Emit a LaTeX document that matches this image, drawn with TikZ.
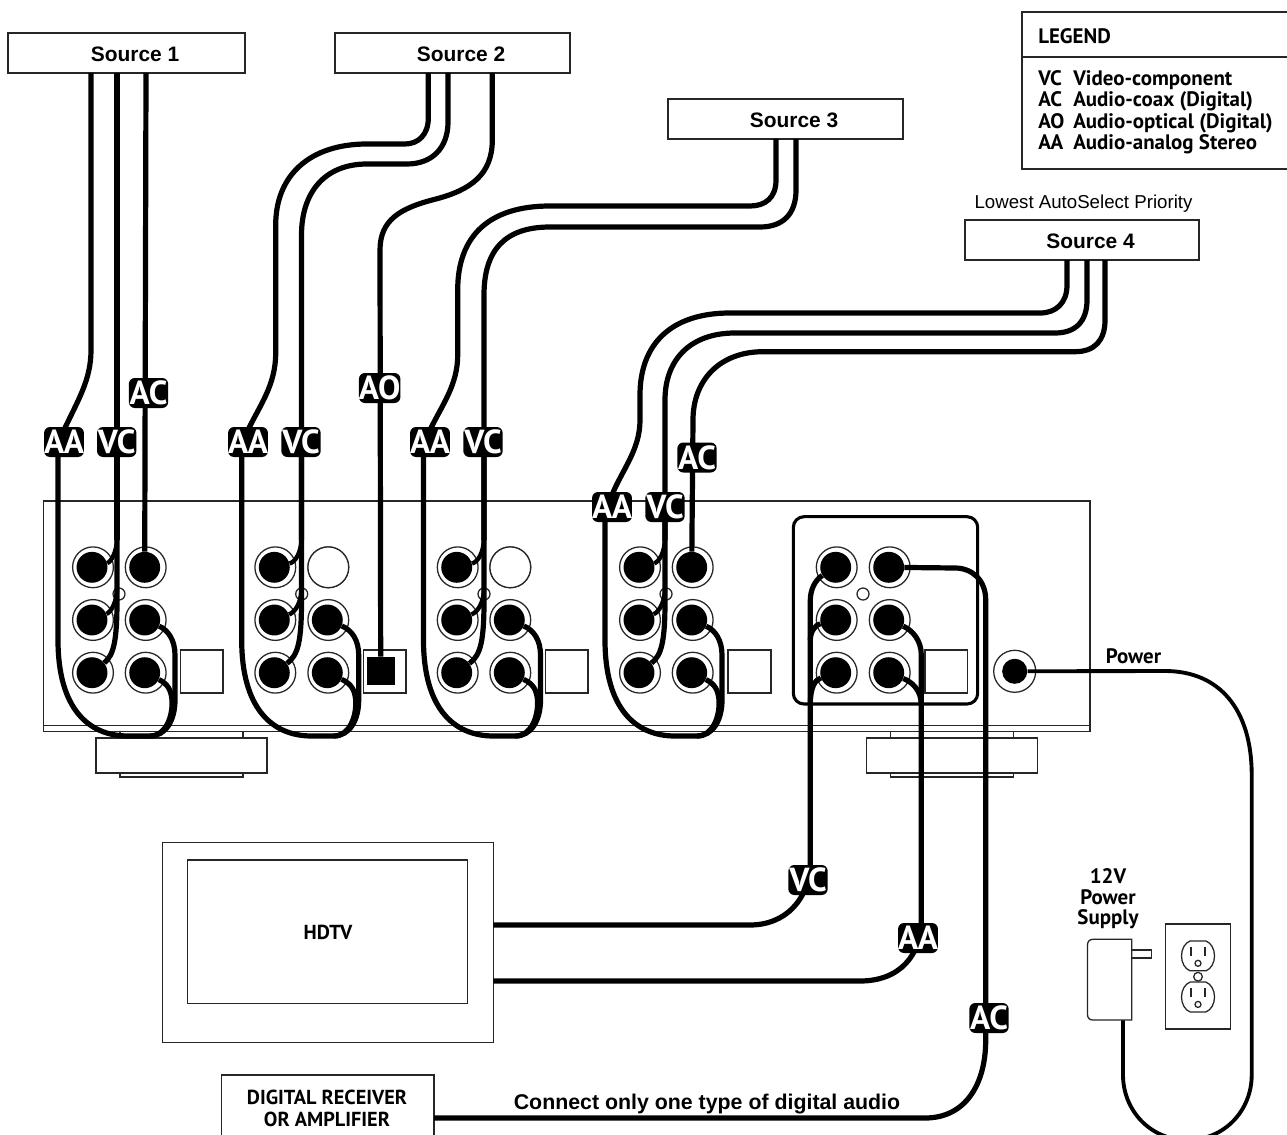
\documentclass[tikz,border=0pt]{standalone}
\usepackage{fontspec}
\setmainfont{Liberation Sans}
\newfontfamily\myr{PT Sans}
\usetikzlibrary{calc}
\tikzset{
  x=0.75pt,y=-0.75pt,
  thin line/.style={draw=black!85,line width=0.95pt},
  box/.style={thin line,fill=white,rectangle,inner sep=0pt,outer sep=0pt},
  jackring/.style={thin line,fill=white,circle,minimum size=30.6pt,inner sep=0pt},
  jackcore/.style={fill=black,circle,minimum size=23.2pt,inner sep=0pt},
  led/.style={thin line,fill=white,circle,minimum size=9pt,inner sep=0pt},
  cable/.style={line width=3.9pt,draw=black,line join=round},
  tag/.style={fill=black,text=white,rounded corners=4.5pt,minimum width=29.5pt,minimum height=22.5pt,inner sep=0pt,font=\myr\bfseries\fontsize{25}{25}\selectfont},
  srclabel/.style={font=\bfseries\fontsize{15.7}{15.7}\selectfont,inner sep=0pt,xshift=6.4pt,yshift=-1.2pt},
  myrlabel/.style={font=\myr\bfseries\fontsize{15.7}{15.7}\selectfont,inner sep=0pt},
  myrsmall/.style={font=\myr\bfseries\fontsize{15.7}{15.7}\selectfont,inner sep=0pt},
}
% a rectangle by its pixel corners
\newcommand{\pxbox}[5]{\node[box,minimum width={(#4-#2)*0.75pt},minimum height={(#5-#3)*0.75pt},anchor=north west] (#1) at (#2,#3) {};}
% one group of six jacks: name, left x, right x
\newcommand{\jackgroup}[3]{%
  \foreach \r/\yy in {a/567.3,b/620,c/672.7}{%
    \node[jackring] (#1l\r) at (#2,\yy) {};
    \node[jackring] (#1r\r) at (#3,\yy) {};
    \node[jackcore] (#1lc\r) at (#2-1,\yy) {};
    \node[jackcore] (#1rc\r) at (#3-1,\yy) {};
  }}
% audio pair: name, left cable x, y where the cable comes out of the tag
\newcommand{\audioloop}[3]{%
  \draw[cable] (#2,#3) -- (#2,640) .. controls (#2,708) and ({#2+30},736) .. ({#2+70},736) -- ({#2+92},736)
     .. controls ({#2+108},736) and ({#2+115},716) .. ({#2+114},700) .. controls ({#2+113},690) and ({#2+110},684) .. (#1rcc);
  \draw[cable] ({#2+92},736) .. controls ({#2+108},736) and ({#2+117},720) .. ({#2+117},700) -- ({#2+117},655) .. controls ({#2+117},640) and ({#2+110},630) .. (#1rcb);
}
% video fan: name, trunk x, top y of the fan part
\newcommand{\videofan}[3]{%
  \draw[cable] (#2,#3) -- (#2,600) .. controls (#2,640) and ({#2-3},655) .. (#1lcc);
  \draw[cable,line width=3.3pt] (#2,538) .. controls (#2,552) and ({#2-6},562) .. (#1lca);
  \draw[cable,line width=3.3pt] (#2,588) .. controls (#2,602) and ({#2-6},612) .. (#1lcb);
}
\begin{document}
\begin{tikzpicture}
\useasboundingbox (0,0) rectangle (1287,1134);
\fill[white] (0,0) rectangle (1287,1134);
\begin{scope}
\clip (0,0) rectangle (1287,1134);
% -------- receiver
\pxbox{footAtop}{120}{731}{243}{738}
\pxbox{footAlow}{120}{773}{243}{777}
\pxbox{footA}{96}{738}{267}{773}
\pxbox{footBtop}{890.7}{731}{1013.7}{738}
\pxbox{footBlow}{890.7}{773}{1013.7}{777}
\pxbox{footB}{866.7}{738}{1037.3}{773}
\pxbox{chassisfoot}{43.7}{725.7}{1090}{731.7}
\pxbox{chassis}{43.7}{501}{1090}{725.7}
\node[draw=black,line width=2.3pt,rounded corners=8pt,fill=white,minimum width={184.4*0.75pt},minimum height={187.3*0.75pt},anchor=north west,inner sep=0pt,outer sep=0pt] (outbox) at (793.3,516.7) {};
\pxbox{optA}{180.3}{650}{223}{693}
\pxbox{optB}{363.3}{650}{406}{693}
\pxbox{optC}{545.7}{650}{588}{693}
\pxbox{optD}{728}{650}{771}{693}
\pxbox{optE}{925}{650}{967.5}{693}
\node[led] (ledA) at (119,594) {};
\node[led] (ledB) at (301.7,594) {};
\node[led] (ledC) at (484,594) {};
\node[led] (ledD) at (666,594) {};
\node[led] (ledE) at (863,594) {};
\jackgroup{A}{93}{145.7}
\jackgroup{B}{275.3}{328.3}
\jackgroup{C}{457.7}{510.3}
\jackgroup{D}{640}{692.7}
\jackgroup{E}{836.7}{889.7}
% empty jacks
\node[jackring] (emptyB) at (328.3,567.3) {};
\node[jackring] (emptyC) at (510.3,567.3) {};
\node[fill=black,minimum size=21pt,inner sep=0pt,outer sep=0pt] (optplug) at (380.7,670.6) {};
\node[jackring,minimum size=31.5pt] (pwr) at (1014.7,671.3) {};
\node[jackcore,minimum size=18.8pt] (pwrcore) at (1014.7,671.3) {};
% -------- sources
\pxbox{srcA}{8}{33}{245}{73}
\pxbox{srcB}{335}{33}{570}{73}
\pxbox{srcC}{668}{99}{903}{139}
\node[font=\fontsize{14}{14}\selectfont,inner sep=0pt] (prio) at (1083.5,203.5) {Lowest AutoSelect Priority};
\pxbox{srcD}{965}{220}{1199}{260}
\node[srclabel] (srcAt) at (srcA.center) {Source 1};
\node[srclabel] (srcBt) at (srcB.center) {Source 2};
\node[srclabel] (srcCt) at (srcC.center) {Source 3};
\node[srclabel] (srcDt) at (srcD.center) {Source 4};
\coordinate (a1) at (91,73);
\coordinate (a2) at (117,73);
\coordinate (a3) at (146,73);
\coordinate (b1) at (428.3,73);
\coordinate (b2) at (448,73);
\coordinate (b3) at (492.3,73);
\coordinate (c1) at (776,139);
\coordinate (c2) at (796,139);
\coordinate (d1) at (1067,260);
\coordinate (d2) at (1087,260);
\coordinate (d3) at (1105,260);
% -------- legend
\pxbox{legend}{1022}{12}{1290}{169}
\draw[thin line] (legend.west |- 0,57) -- (legend.east |- 0,57);
\node[myrlabel,anchor=base west] (lgT) at (1038,43.3) {LEGEND};
\foreach \k/\yy/\aa/\bb in {v/85.7/VC/Video-component,c/107/AC/Audio-coax (Digital),o/128.5/AO/Audio-optical (Digital),n/150/AA/Audio-analog Stereo}{
  \node[myrlabel,anchor=base west] (lg\k a) at (1038,\yy) {\aa};
  \node[myrlabel,anchor=base west] (lg\k b) at (1073,\yy) {\bb};
}
% -------- source 1 cables
\draw[cable] (a1) -- (91,350) .. controls (91,380) and (78,400) .. (64,430);
\draw[cable] (a2) -- (117,540);
\draw[cable] (a3) -- (Arca);
\audioloop{A}{58}{455}
\videofan{A}{117}{450}
% -------- source 2 cables
\draw[cable] (b1) -- (428.3,118) .. controls (428.3,135) and (418,144) .. (405,144) -- (367,144)
  .. controls (310,144) and (275.7,175) .. (275.7,225) -- (275.7,353) .. controls (275.7,385) and (260,405) .. (248,430);
\draw[cable] (b2) -- (448,122) .. controls (448,148) and (432,164) .. (407,164) -- (367,164)
  .. controls (325,164) and (301.5,192) .. (301.5,235) -- (301.5,540);
\draw[cable] (b3) -- (492.3,140) .. controls (492.3,175) and (470,190) .. (436,199) .. controls (400,208) and (380,220) .. (380,250) -- (optplug);
\audioloop{B}{241.7}{455}
\videofan{B}{301.5}{450}
% -------- source 3 cables
\draw[cable] (c1) -- (776,180) .. controls (776,198) and (765,206) .. (750,206) -- (550,206)
  .. controls (490,206) and (457.7,235) .. (457.7,290) -- (457.7,355) .. controls (457.7,385) and (442,405) .. (430,430);
\draw[cable] (c2) -- (796,190) .. controls (796,215) and (782,227) .. (760,227) -- (550,227)
  .. controls (505,227) and (484,250) .. (484,295) -- (484,540);
\audioloop{C}{423.5}{455}
\videofan{C}{484}{450}
% -------- source 4 cables
\draw[cable] (d1) -- (1067,285) .. controls (1067,303) and (1056,313) .. (1040,313) -- (730,313)
  .. controls (670,313) and (640,345) .. (640,395) -- (640,420) .. controls (640,450) and (622,470) .. (612,495);
\draw[cable] (d2) -- (1087,300) .. controls (1087,322) and (1075,333) .. (1055,333) -- (735,333)
  .. controls (690,333) and (665,360) .. (665,400) -- (665,540);
\draw[cable] (d3) -- (1105,320) .. controls (1105,340) and (1095,351.7) .. (1075,351.7) -- (763,351.7)
  .. controls (720,351.7) and (693,380) .. (693,420) -- (Drca);
\audioloop{D}{605}{520}
\videofan{D}{665}{520}
% -------- TV and receiver boxes
\pxbox{tvo}{162.3}{842.3}{493.3}{1042.7}
\pxbox{tvi}{187.7}{860}{467.7}{1003.3}
\node[myrlabel,font=\myr\bfseries\fontsize{15.2}{15.2}\selectfont] (tvt) at (328,932) {HDTV};
\pxbox{dig}{221.7}{1075}{434}{1150}
\node[myrlabel,font=\myr\bfseries\fontsize{15.2}{15.2}\selectfont] (digA) at (327,1097) {DIGITAL RECEIVER};
\node[myrlabel,font=\myr\bfseries\fontsize{15.2}{15.2}\selectfont] (digB) at (327,1119) {OR AMPLIFIER};
\node[font=\bfseries\fontsize{16}{16}\selectfont,inner sep=0pt] (note) at (707,1104.5) {Connect only one type of digital audio};
% -------- zone 2 cables
\coordinate (tvA) at (tvo.east |- 0,925);
\coordinate (tvB) at (tvo.east |- 0,981);
\coordinate (digOut) at (dig.east |- 0,1118);
\draw[cable] (tvA) -- (750,925) .. controls (785,925) and (810.3,900) .. (810.3,860) -- (810.3,600) .. controls (810.3,590) and (815,580) .. (Elca);
\draw[cable] (810.3,640) .. controls (810.3,632) and (815,625) .. (Elcb);
\draw[cable] (810.3,705) .. controls (810.3,687) and (815,680) .. (Elcc);
\draw[cable] (tvB) -- (860,981) .. controls (900,981) and (921.3,955) .. (921.3,920) -- (921.3,655) .. controls (921.3,640) and (912,630) .. (Ercb);
\draw[cable] (921.3,705) .. controls (921.3,690) and (912,682) .. (Ercc);
\draw[cable] (digOut) -- (925,1118) .. controls (965,1118) and (985.7,1085) .. (985.7,1040) -- (985.7,600) .. controls (985.7,580) and (972,568) .. (955,568) -- (Erca);
% -------- power
\draw[line width=2.9pt] (pwrcore) -- (1165,671) .. controls (1220,671) and (1251.7,710) .. (1251.7,775) -- (1251.7,1075)
   .. controls (1251.7,1110) and (1225,1140) .. (1187,1140) .. controls (1150,1140) and (1123,1110) .. (1123,1075) -- (1123,1020);
\node[myrsmall] (pwrt) at (1133.5,656) {Power};
\node[myrsmall] (v12a) at (1108,876) {12V};
\node[myrsmall] (v12b) at (1108,897) {Power};
\node[myrsmall] (v12c) at (1108,919) {Supply};
\pxbox{prong}{1130}{950}{1151.7}{958}
\draw[thin line,fill=white] (1131.7,939.3) -- (1093,939.3) .. controls (1089.5,939.3) and (1087.5,941.5) .. (1087.5,945) -- (1087.5,1014.5) .. controls (1087.5,1018) and (1089.5,1020) .. (1093,1020) -- (1131.7,1020) -- cycle;
\pxbox{outlet}{1165.7}{924}{1230.3}{1029}
\foreach \n/\cy in {u/955.9,l/997}{
  \begin{scope}[shift={(1198,\cy)}]
  \draw[thin line] (-8,-14.9) -- (8,-14.9) .. controls (13,-13) and (16.5,-7) .. (16.5,0) .. controls (16.5,7) and (13,13) .. (8,14.9) -- (-8,14.9) .. controls (-13,13) and (-16.5,7) .. (-16.5,0) .. controls (-16.5,-7) and (-13,-13) .. (-8,-14.9) -- cycle;
  \draw[thin line] (-7,-9) -- (-7,0);
  \draw[thin line] (7,-9) -- (7,0);
  \node[led,minimum size=4.5pt] (gnd\n) at (0,7.4) {};
  \end{scope}
}
\node[led,minimum size=6.5pt] (screw) at (1198,976.7) {};
% -------- tags, on top
\node[tag] (tA1) at (64,442) {AA};
\node[tag] (tA2) at (116.7,442) {VC};
\node[tag] (tA3) at (148.5,393) {AC};
\node[tag] (tB1) at (248,442) {AA};
\node[tag] (tB2) at (301,442) {VC};
\node[tag] (tB3) at (379.7,388) {AO};
\node[tag] (tC1) at (430,442) {AA};
\node[tag] (tC2) at (483,442) {VC};
\node[tag] (tD1) at (612,507) {AA};
\node[tag] (tD2) at (665,507) {VC};
\node[tag] (tD3) at (697,457.5) {AC};
\node[tag] (tE1) at (808,880) {VC};
\node[tag] (tE2) at (918,938) {AA};
\node[tag] (tE3) at (989,1018) {AC};
\end{scope}
\end{tikzpicture}
\end{document}
